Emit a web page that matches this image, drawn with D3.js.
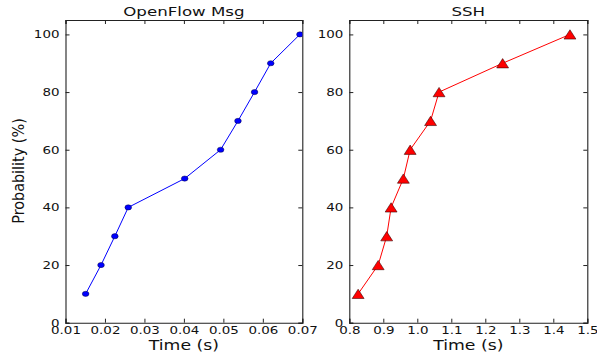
<!DOCTYPE html>
<html>
<head>
<meta charset="utf-8">
<script src="https://cdn.jsdelivr.net/npm/d3@7"></script>
<style>
  body { margin: 0; background: #fff; }
  svg { display: block; }
  .axis path, .axis line { stroke: #222; }
  .axis text { fill: #111; font-family: "DejaVu Sans", sans-serif; font-size: 10.5px; }
</style>
</head>
<body>
<svg width="597" height="355"></svg>
<script>
// cumulative probability (%) shared by both panels
var probs = [10, 20, 30, 40, 50, 60, 70, 80, 90, 100];
// OpenFlow message delay (s)
var openflowTimes = [0.0151, 0.0190, 0.0225, 0.0259, 0.0402, 0.0493, 0.0537, 0.0579, 0.0620, 0.0694];
// SSH delay (s)
var sshTimes = [0.826, 0.885, 0.910, 0.923, 0.959, 0.979, 1.039, 1.064, 1.251, 1.449];

var openflowTicks = [0.01, 0.02, 0.03, 0.04, 0.05, 0.06, 0.07];
var sshTicks = [0.8, 0.9, 1.0, 1.1, 1.2, 1.3, 1.4, 1.5];
var probTicks = [0, 20, 40, 60, 80, 100];

var SX = 1.28; // the original picture is stretched sideways
var svg = d3.select("svg");

var plotTop = 20, plotBottom = 322.7;
var y = d3.scaleLinear().domain([0, 105]).range([plotBottom, plotTop]);

function panel(opts) {
	var x = d3.scaleLinear().domain(opts.domain).range([opts.left, opts.right]);
	var g = svg.append("g");
	var id = "clip" + opts.name;

	svg.append("clipPath").attr("id", id)
		.append("rect")
		.attr("x", opts.left).attr("y", plotTop)
		.attr("width", opts.right - opts.left).attr("height", plotBottom - plotTop);

	// axes, ticks point inward on all four sides
	g.append("g").attr("class", "axis")
		.attr("transform", "translate(0," + plotBottom + ")")
		.call(d3.axisBottom(x).tickValues(opts.ticks).tickFormat(opts.fmt).tickSize(-4).tickPadding(4.3))
		.selectAll("text")
		.attr("transform", "scale(" + SX + ",1)");

	g.append("g").attr("class", "axis")
		.attr("transform", "translate(0," + plotTop + ")")
		.call(d3.axisTop(x).tickValues(opts.ticks).tickFormat("").tickSize(-4));

	g.append("g").attr("class", "axis")
		.attr("transform", "translate(" + opts.left + ",0)")
		.call(d3.axisLeft(y).tickValues(probTicks).tickSize(-4).tickPadding(4.7))
		.selectAll("text")
		.attr("transform", "scale(" + SX + ",1)");

	g.append("g").attr("class", "axis")
		.attr("transform", "translate(" + opts.right + ",0)")
		.call(d3.axisRight(y).tickValues(probTicks).tickFormat("").tickSize(-4));

	g.selectAll(".axis path").attr("stroke-width", 1.1);

	g.append("text")
		.attr("transform", "translate(" + (opts.left + opts.right) / 2 + ",15.5) scale(" + SX + ",1)")
		.attr("text-anchor", "middle")
		.style("font-family", "DejaVu Sans, sans-serif")
		.style("font-size", "13px")
		.attr("fill", "#111")
		.text(opts.title);

	g.append("text")
		.attr("transform", "translate(" + (opts.left + opts.right) / 2 + ",350) scale(" + SX + ",1)")
		.attr("text-anchor", "middle")
		.style("font-family", "DejaVu Sans, sans-serif")
		.style("font-size", "13.5px")
		.attr("fill", "#111")
		.text("Time (s)");

	var pts = opts.times.map(function (t, i) {
		return [x(t), y(probs[i])];
	});

	var plot = g.append("g").attr("clip-path", "url(#" + id + ")");

	plot.append("path")
		.datum(pts)
		.attr("fill", "none")
		.attr("stroke", opts.color)
		.attr("stroke-width", 1)
		.attr("d", d3.line());

	var marks = plot.selectAll(".mark")
		.data(pts)
		.enter().append("g")
		.attr("class", "mark")
		.attr("transform", function (d) {
			return "translate(" + d[0] + "," + d[1] + ") scale(" + SX + ",1)";
		});

	opts.marker(marks);
}

panel({
	name: "of",
	left: 65.5, right: 302.3,
	domain: [0.01, 0.07],
	ticks: openflowTicks,
	fmt: d3.format(".2f"),
	times: openflowTimes,
	color: "#0000ff",
	title: "OpenFlow Msg",
	marker: function (m) {
		m.append("ellipse")
			.attr("rx", 2.6).attr("ry", 2.6)
			.attr("fill", "#0000ff")
			.attr("stroke", "#000033")
			.attr("stroke-width", 0.4);
	}
});

panel({
	name: "ssh",
	left: 349.3, right: 587.3,
	domain: [0.8, 1.5],
	ticks: sshTicks,
	fmt: d3.format(".1f"),
	times: sshTimes,
	color: "#ff0000",
	title: "SSH",
	marker: function (m) {
		m.append("path")
			.attr("d", "M0,-4.65L4.65,4.65L-4.65,4.65Z")
			.attr("fill", "#ff0000")
			.attr("stroke", "#330000")
			.attr("stroke-width", 0.5);
	}
});

svg.append("text")
	.attr("transform", "translate(24,171) rotate(-90)")
	.attr("text-anchor", "middle")
	.style("font-family", "DejaVu Sans Condensed, Liberation Sans, sans-serif")
	.style("font-stretch", "condensed")
	.style("font-size", "16px")
	.attr("fill", "#111")
	.text("Probability (%)");
</script>
</body>
</html>
